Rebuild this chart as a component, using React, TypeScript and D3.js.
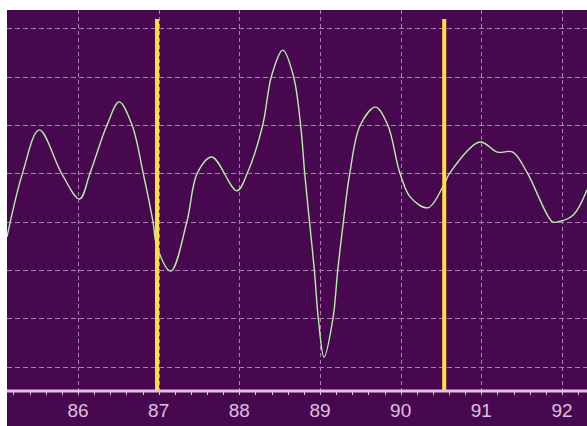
import React from "react";
import * as d3 from "d3";

// Signal trace samples (time, amplitude)
const traceX = [85.12, 85.31, 85.52, 85.8, 86.02, 86.15, 86.36, 86.51, 86.67, 86.81, 86.93, 86.98, 87.15, 87.35, 87.48, 87.66, 87.97, 88.1, 88.29, 88.4, 88.54, 88.67, 88.76, 88.81, 88.87, 88.93, 88.98, 89.05, 89.16, 89.22, 89.29, 89.37, 89.5, 89.69, 89.84, 89.99, 90.12, 90.34, 90.54, 90.61, 90.98, 91.2, 91.39, 91.57, 91.88, 91.95, 92.14, 92.31];
const traceY = [2.69, 3.99, 4.9, 3.99, 3.47, 4.01, 5.0, 5.48, 5.0, 3.99, 3.0, 2.48, 1.98, 3.0, 4.01, 4.34, 3.64, 4.01, 5.0, 6.02, 6.55, 6.02, 5.0, 4.01, 3.0, 2.0, 0.99, 0.2, 0.99, 2.0, 3.0, 4.01, 5.0, 5.37, 5.0, 4.01, 3.51, 3.29, 3.78, 4.01, 4.65, 4.44, 4.44, 4.01, 3.0, 3.0, 3.14, 3.66];

// Cursor markers
const markers = [86.98, 90.54];

// Axis labels
const tickValues = [86, 87, 88, 89, 90, 91, 92];
const gridRows = [0, 1, 2, 3, 4, 5, 6, 7];

const W = 587;
const H = 426;
const left = 7;
const top = 10;
const axisY = 391;

export default function App() {
  const x = d3.scaleLinear().domain([85.12, 92.31]).range([left, W]);
  const y = d3.scaleLinear().domain([-0.5, 7.4]).range([axisY, 9]);

  const pts: [number, number][] = traceX.map((v, i) => [v, traceY[i]]);
  const line = d3
    .line<[number, number]>()
    .x((d) => x(d[0]))
    .y((d) => y(d[1]))
    .curve(d3.curveCatmullRom.alpha(0.5));

  const minor = d3.range(85.2, 92.31, 0.2);

  return (
    <svg
      width={W}
      height={H}
      style={{ position: "absolute", left: 0, top: 0 }}
    >
      <rect x={0} y={0} width={W} height={H} fill="#ffffff" />
      <rect x={left} y={top} width={W - left} height={H - top} fill="#48084f" />
      <defs>
        <clipPath id="plot">
          <rect x={left} y={top} width={W - left} height={axisY - top} />
        </clipPath>
      </defs>
      {/* grid */}
      <g stroke="#c88ec8" strokeWidth={1} opacity={0.85}>
        {gridRows.map((g) => (
          <line
            key={"h" + g}
            x1={left}
            x2={W}
            y1={Math.round(y(g)) + 0.5}
            y2={Math.round(y(g)) + 0.5}
            strokeDasharray="5 3"
          />
        ))}
        {tickValues.map((t) => (
          <line
            key={"v" + t}
            x1={Math.round(x(t)) + 0.5}
            x2={Math.round(x(t)) + 0.5}
            y1={top}
            y2={axisY}
            strokeDasharray="4 3"
          />
        ))}
      </g>
      {/* trace */}
      <path
        d={line(pts) || ""}
        fill="none"
        stroke="#b4f0a8"
        strokeWidth={1.4}
        clipPath="url(#plot)"
      />
      {/* cursors */}
      {markers.map((m) => (
        <line
          key={"m" + m}
          x1={x(m)}
          x2={x(m)}
          y1={19}
          y2={axisY}
          stroke="#ffe040"
          strokeWidth={4}
        />
      ))}
      {/* axis */}
      <line x1={left} x2={W} y1={axisY} y2={axisY} stroke="#e6bee6" strokeWidth={3} />
      <g stroke="#e6bee6" strokeWidth={1}>
        {minor.map((t, i) => (
          <line key={"t" + i} x1={Math.round(x(t)) + 0.5} x2={Math.round(x(t)) + 0.5} y1={axisY} y2={axisY + 4} />
        ))}
      </g>
      {tickValues.map((t) => (
        <text
          key={"l" + t}
          x={x(t)}
          y={417}
          textAnchor="middle"
          fill="#dcc0dc"
          fontFamily="Liberation Sans, Arial, sans-serif"
          fontSize={19}
        >
          {t}
        </text>
      ))}
    </svg>
  );
}
